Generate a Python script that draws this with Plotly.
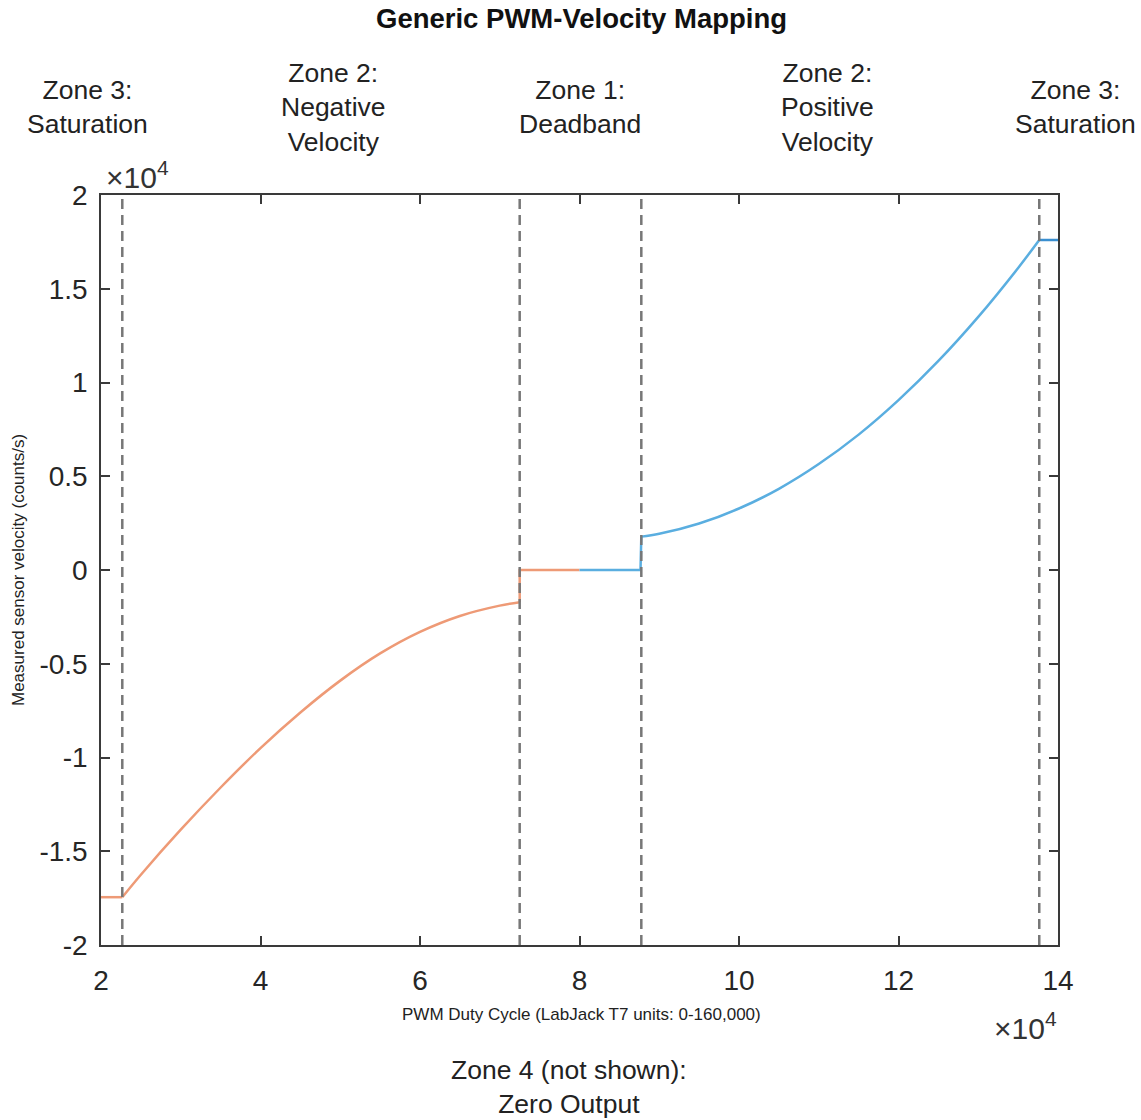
import numpy as np
import plotly.graph_objects as go

SCALE = 1e4  # axes are displayed in units of 10^4

# Zone boundaries (PWM duty cycle, LabJack T7 units)
zone_bounds = [22670, 72500, 87750, 137650]

# Negative-velocity branch (orange)
neg_sat_pwm = [20000, 22670]
neg_sat_vel = [-17450, -17450]
neg_pwm = [22670, 25000, 30000, 35000, 40000, 45000, 50000, 55000, 60000, 65000, 70000, 72500]
neg_vel = [-17450, -16250, -13850, -11600, -9500, -7600, -5900, -4450, -3300, -2450, -1900, -1720]
neg_dead_pwm = [72500, 72500, 80000]
neg_dead_vel = [-1720, 0, 0]

# Positive-velocity branch (blue)
pos_dead_pwm = [80000, 87650, 87750]
pos_dead_vel = [0, 0, 1780]
pos_pwm = [87750, 90000, 95000, 100000, 105000, 110000, 115000, 120000, 125000, 130000, 135000, 137650]
pos_vel = [1780, 1930, 2480, 3280, 4330, 5650, 7220, 9060, 11150, 13500, 16110, 17600]
pos_sat_pwm = [137650, 140000]
pos_sat_vel = [17600, 17600]

ORANGE = "#EE9A76"
BLUE = "#5AAEE0"
BLUE_SAT = "#3A8FD0"

x_ticks = [2, 4, 6, 8, 10, 12, 14]
y_ticks = [-2, -1.5, -1, -0.5, 0, 0.5, 1, 1.5, 2]
y_tick_text = ["-2", "-1.5", "-1", "-0.5", "0", "0.5", "1", "1.5", "2"]

# zone captions: (centre x in px, text, centre y in px)
zone_labels = [
    (87, "Zone 3:<br>Saturation", 107),
    (333, "Zone 2:<br>Negative<br>Velocity", 107),
    (580, "Zone 1:<br>Deadband", 107),
    (827, "Zone 2:<br>Positive<br>Velocity", 107),
    (1075, "Zone 3:<br>Saturation", 107),
]

FONT = "Liberation Sans"
W, H = 1141, 1120
L, R, T, B = 101, 83, 195, 175
PLOT_W = W - L - R
PLOT_H = H - T - B


def sc(v):
    return np.asarray(v, dtype=float) / SCALE


fig = go.Figure()


def add_line(xs, ys, color, spline=False):
    line = dict(color=color, width=2.5)
    if spline:
        line.update(shape="spline", smoothing=1.0)
    fig.add_trace(go.Scatter(
        x=sc(xs), y=sc(ys), mode="lines", line=line,
        hoverinfo="skip", showlegend=False,
    ))


add_line(neg_sat_pwm, neg_sat_vel, ORANGE)
add_line(neg_pwm, neg_vel, ORANGE, spline=True)
add_line(neg_dead_pwm, neg_dead_vel, ORANGE)
add_line(pos_dead_pwm, pos_dead_vel, BLUE)
add_line(pos_pwm, pos_vel, BLUE, spline=True)
add_line(pos_sat_pwm, pos_sat_vel, BLUE_SAT)

for xb in zone_bounds:
    fig.add_shape(type="line", xref="x", yref="paper", x0=xb / SCALE, x1=xb / SCALE,
                  y0=0, y1=1, layer="above",
                  line=dict(color="#777777", width=2.5, dash="10px,6px"))


def note(text, px, py, size, color="#222222", **kw):
    """Place a text at a page pixel position (converted to paper coords)."""
    fig.add_annotation(
        text=text, xref="paper", yref="paper",
        x=(px - L) / PLOT_W, y=1 - (py - T) / PLOT_H,
        showarrow=False, xanchor="center", yanchor="middle",
        font=dict(family=FONT, size=size, color=color), **kw,
    )


note("<b>Generic PWM-Velocity Mapping</b>", 581, 18, 27.5, "#111111")
for cx, txt, cy in zone_labels:
    note(txt, cx, cy, 26.5)
note("×10<sup>4</sup>", 137, 175, 30, "#333333")
note("×10<sup>4</sup>", 1025, 1026, 30, "#333333")
note("PWM Duty Cycle (LabJack T7 units: 0-160,000)", 581, 1014, 17)
note("Measured sensor velocity (counts/s)", 18, 570, 17, textangle=-90)
note("Zone 4 (not shown):<br>Zero Output", 569, 1087, 26.5)

fig.update_layout(
    width=W, height=H,
    margin=dict(l=L, r=R, t=T, b=B, autoexpand=False),
    paper_bgcolor="white", plot_bgcolor="white",
    font=dict(family=FONT, color="#262626"),
)

axis_common = dict(
    showgrid=False, zeroline=False, showline=True, linecolor="#3a3a3a", linewidth=1.5,
    mirror="ticks", ticks="inside", ticklen=9, tickwidth=1.5, tickcolor="#3a3a3a",
    tickfont=dict(size=28, color="#262626", family=FONT),
)
fig.update_xaxes(range=[2, 14], tickvals=x_ticks, ticktext=[str(v) for v in x_ticks],
                 ticklabelstandoff=10, **axis_common)
fig.update_yaxes(range=[-2, 2], tickvals=y_ticks, ticktext=y_tick_text,
                 ticklabelstandoff=6, **axis_common)

fig.write_html("out.html")
